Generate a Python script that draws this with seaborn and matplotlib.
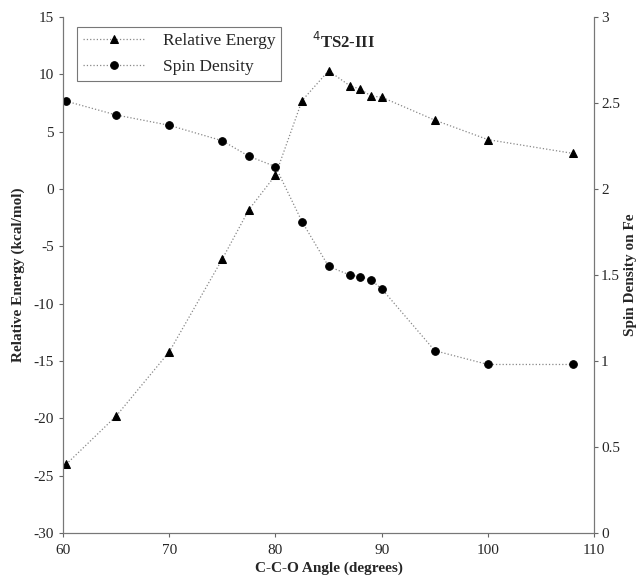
import matplotlib
matplotlib.use("Agg")
import matplotlib.pyplot as plt
import seaborn as sns
import pandas as pd

# C-C-O angle (degrees)
angle = [60.3, 65, 70, 75, 77.5, 80, 82.5, 85, 87, 88, 89, 90, 95, 100, 108]
# relative energy (kcal/mol)
energy = [-24.0, -19.8, -14.2, -6.1, -1.8, 1.2, 7.7, 10.3, 9.0, 8.7, 8.1, 8.0, 6.0, 4.3, 3.1]
# spin density on Fe
spin = [2.51, 2.43, 2.37, 2.28, 2.19, 2.13, 1.81, 1.55, 1.50, 1.49, 1.47, 1.42, 1.06, 0.98, 0.98]

df = pd.DataFrame({"angle": angle, "energy": energy, "spin": spin})

sns.set_style("ticks")
plt.rcParams["font.family"] = ["Liberation Serif", "DejaVu Serif"]
plt.rcParams["axes.edgecolor"] = "#777777"
plt.rcParams["axes.unicode_minus"] = False

fig = plt.figure(figsize=(6.43, 5.82), dpi=100)
ax = fig.add_axes([0.098, 0.084, 0.826, 0.887])
ax2 = ax.twinx()

line_kw = dict(color="#888888", linestyle=":", linewidth=0.9,
               markerfacecolor="black", markeredgecolor="black", markersize=5.5)
sns.lineplot(data=df, x="angle", y="energy", ax=ax, marker="^",
             label="Relative Energy", legend=False, **line_kw)
sns.lineplot(data=df, x="angle", y="spin", ax=ax2, marker="o",
             label="Spin Density", legend=False, **line_kw)

ax.set_xlim(60, 110)
ax.set_ylim(-30, 15)
ax2.set_ylim(0, 3)
ax.set_xticks([60, 70, 80, 90, 100, 110])
ax.set_yticks(range(-30, 16, 5))
ax2.set_yticks([0, 0.5, 1, 1.5, 2, 2.5, 3])
ax2.set_yticklabels(["0", "0.5", "1", "1.5", "2", "2.5", "3"])

for a in (ax, ax2):
    a.spines["top"].set_visible(False)
    a.tick_params(labelsize=11, length=3, width=0.8, color="#666666")
ax.tick_params(axis="x", pad=5)
ax2.tick_params(axis="y", pad=2)

ax.set_xlabel("C-C-O Angle (degrees)", fontsize=11, fontweight="bold", labelpad=3)
ax.set_ylabel("Relative Energy (kcal/mol)", fontsize=11, fontweight="bold", labelpad=6)
ax2.set_ylabel("Spin Density on Fe", fontsize=11, fontweight="bold", labelpad=3)

ax.text(86.4, 12.3, r"$^{4}$TS2-III", fontsize=12, fontweight="bold", ha="center")

h1, l1 = ax.get_legend_handles_labels()
h2, l2 = ax2.get_legend_handles_labels()
leg = ax.legend(h1 + h2, l1 + l2, loc="upper left", bbox_to_anchor=(0.016, 0.99),
                fontsize=12.5, frameon=True, fancybox=False, edgecolor="#555555",
                borderpad=0.35, handlelength=3.6, labelspacing=0.55,
                handletextpad=1.0, borderaxespad=0.3)
leg.get_frame().set_linewidth(0.8)

fig.savefig("out.png", dpi=100)
